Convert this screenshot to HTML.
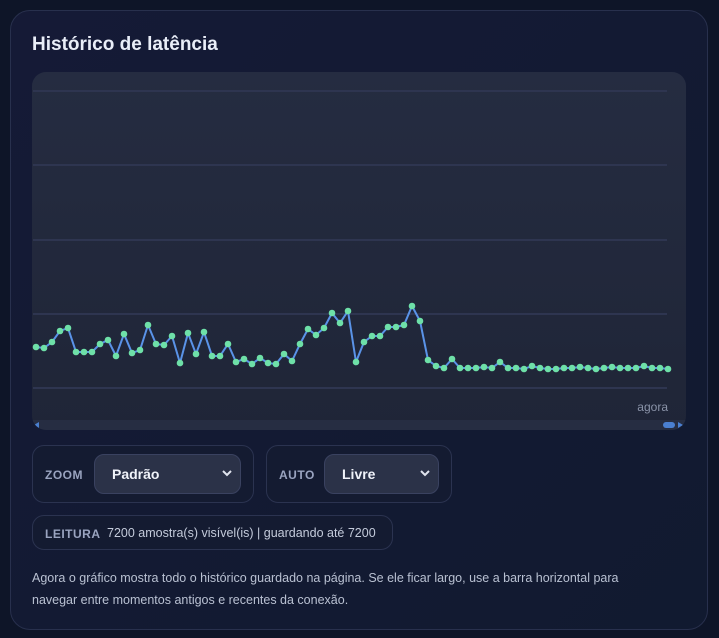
<!DOCTYPE html>
<html><head><meta charset="utf-8"><style>
*{box-sizing:border-box;margin:0;padding:0}
body{width:719px;height:638px;background:#0e1528;font-family:"Liberation Sans",sans-serif;overflow:hidden;position:relative}
.card{position:absolute;left:10px;top:10px;width:698px;height:620px;border:1px solid #28304d;border-radius:20px;background:linear-gradient(135deg,#151a36,#111a30)}
h1{position:absolute;left:32px;top:34px;font-size:19px;font-weight:bold;color:#e9eef8}
.chart{position:absolute;left:32px;top:72px;width:654px;height:358px;border-radius:14px;background:linear-gradient(180deg,#252c41,#1f2537);overflow:hidden}
.box{position:absolute;border:1px solid #2b3350;border-radius:12px;background:#141b31}
.lbl{position:absolute;font-size:12px;font-weight:bold;color:#9aa4c0;letter-spacing:.5px}
.sel{position:absolute;border:1px solid #3a4260;border-radius:10px;background:#2b3248;color:#f0f3fa;font-weight:bold;font-size:14px;padding:11px 0 0 17px}
.sel svg{position:absolute;right:8px;top:15px}
p{position:absolute;left:32px;top:567px;width:625px;font-size:12.5px;line-height:22px;color:#b9c1d2}
</style></head><body>
<div class="card"></div>
<h1>Histórico de latência</h1>
<div class="chart">
<svg width="654" height="358" style="position:absolute;left:0;top:0">
<g stroke="#2e3550" stroke-width="2">
<line x1="1" y1="19" x2="635" y2="19"/><line x1="1" y1="93" x2="635" y2="93"/><line x1="1" y1="168" x2="635" y2="168"/><line x1="1" y1="242" x2="635" y2="242"/><line x1="1" y1="316" x2="635" y2="316"/>
</g>
<rect x="0" y="348" width="654" height="10" fill="#262d42"/>
<polygon points="2,353 7,350 7,356" fill="#4a7fd0"/>
<rect x="631" y="350" width="12" height="6" rx="3" fill="#4a7fd0"/>
<polygon points="651,353 646,350 646,356" fill="#4a7fd0"/>
<text x="636" y="339" font-size="12" fill="#8a93a8" text-anchor="end" font-family="Liberation Sans">agora</text>
<g id="d"></g>
</svg>
</div>
<div class="box" style="left:32px;top:445px;width:222px;height:58px"></div>
<div class="lbl" style="left:45px;top:468px">ZOOM</div>
<div class="sel" style="left:94px;top:454px;width:147px;height:40px">Padrão<svg width="10" height="7"><path d="M1 1l4 4 4-4" stroke="#e0e4ee" stroke-width="2" fill="none"/></svg></div>
<div class="box" style="left:266px;top:445px;width:186px;height:58px"></div>
<div class="lbl" style="left:279px;top:468px">AUTO</div>
<div class="sel" style="left:324px;top:454px;width:115px;height:40px">Livre<svg width="10" height="7"><path d="M1 1l4 4 4-4" stroke="#e0e4ee" stroke-width="2" fill="none"/></svg></div>
<div class="box" style="left:32px;top:515px;width:361px;height:35px"></div>
<div class="lbl" style="left:45px;top:527px">LEITURA</div>
<div style="position:absolute;left:107px;top:526px;font-size:12.5px;color:#c4cbdb">7200 amostra(s) visível(is) | guardando até 7200</div>
<p>Agora o gráfico mostra todo o histórico guardado na página. Se ele ficar largo, use a barra horizontal para navegar entre momentos antigos e recentes da conexão.</p>
<script>
var ys=[347,348,342,331,328,352,352,352,344,340,356,334,353,350,325,344,345,336,363,333,354,332,356,356,344,362,359,364,358,363,364,354,361,344,329,335,328,313,323,311,362,342,336,336,327,327,325,306,321,360,366,368,359,368,368,368,367,368,362,368,368,369,366,368,369,369,368,368,367,368,369,368,367,368,368,368,366,368,368,369];
var g=document.getElementById('d'),pts=[],s='';
for(var i=0;i<ys.length;i++){var x=36+8*i-32,y=ys[i]-72;pts.push(x+','+y);s+='<circle cx="'+x+'" cy="'+y+'" r="3.3" fill="#6ee0a8"/>';}
g.innerHTML='<polyline points="'+pts.join(' ')+'" fill="none" stroke="#5a93e8" stroke-width="2"/>'+s;
</script>
</body></html>
